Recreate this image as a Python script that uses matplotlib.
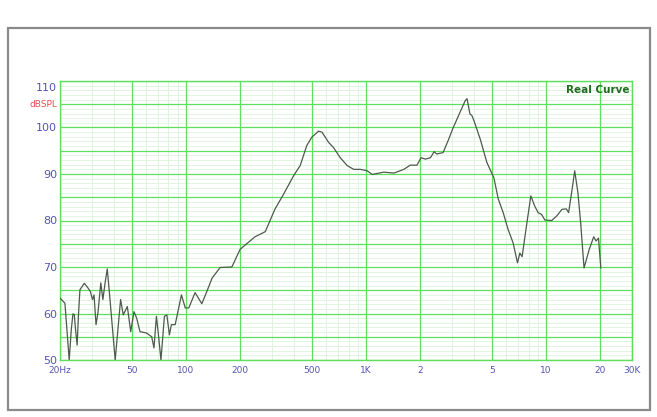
import matplotlib
matplotlib.use("Agg")
import matplotlib.pyplot as plt
from matplotlib.patches import Rectangle
from matplotlib.transforms import ScaledTranslation

freq = [20, 20.86, 21.3, 22.5, 23.1, 23.6, 24.0, 24.4, 24.9, 25.3, 25.8, 27.3, 28.6, 29.5, 30.3,
        30.9, 31.7, 32.5, 33.7, 34.6, 35.6, 36.6, 37.9, 40.5, 43.4, 44.9, 47.3, 49.4, 51.5, 53.3,
        55.6, 60.5, 64.6, 66.5, 68.6, 70.6, 72.7, 76.0, 78.4, 81.0, 83.1, 87.2, 94.5, 99.2, 103.8,
        112.5, 122.6, 130.6, 139.8, 155, 180, 200, 242, 276, 312, 348, 396, 431, 469, 500, 545,
        570, 620, 660, 720, 787, 855, 930, 1015, 1083, 1256, 1430, 1623, 1760, 1920, 2020, 2140,
        2280, 2390, 2470, 2680, 2860, 3030, 3330, 3560, 3640, 3780, 3870, 3975, 4310, 4690, 5130,
        5430, 5780, 6150, 6560, 6940, 7150, 7360, 7780, 8230, 8650, 9030, 9440, 9850, 10750,
        11480, 12250, 12950, 13340, 13950, 14420, 15020, 15560, 16250, 17370, 18390, 18950,
        19540, 20150]
spl = [63.3, 62.6, 62.2, 50, 56.5, 59.9, 59.8, 56.5, 53.2, 59.4, 65.1, 66.5, 65.5, 64.7, 63,
       64, 57.6, 60.2, 66.6, 63, 66.6, 69.6, 63, 50, 63, 59.7, 61.5, 56.1, 60.4, 59,
       56.1, 55.8, 55, 52.6, 59.4, 55, 50, 59.4, 59.7, 55.4, 57.6, 57.6, 64, 61.2, 61.2,
       64.5, 62.1, 64.7, 67.6, 69.9, 70, 73.8, 76.5, 77.6, 82.4, 85.6, 89.6, 91.8, 96.1, 97.9, 99.2,
       99, 96.8, 95.7, 93.5, 91.8, 91.0, 91.0, 90.7, 89.9, 90.4, 90.2, 91.0, 91.9, 91.9, 93.5, 93.2,
       93.5, 94.8, 94.3, 94.6, 97.2, 99.7, 103.3, 105.8, 106.2, 102.9, 102.6, 101.5, 97.5, 92.5, 89.2,
       84.6, 81.7, 78.1, 75.2, 70.9, 73.0, 72.2, 78.8, 85.3, 83.1, 81.7, 81.3, 80.1, 80,
       81, 82.4, 82.5, 81.7, 86.7, 90.7, 86, 79.5, 69.8, 73.8, 76.5, 75.6,
       76.2, 69.8]

xticks = [20, 50, 100, 200, 500, 1000, 2000, 5000, 10000, 20000, 30000]
xticklabels = ["20Hz", "50", "100", "200", "500", "1K", "2", "5", "10", "20", "30K"]
yticks = [50, 60, 70, 80, 90, 100, 110]
yticklabels = ["50", "60", "70", "80", "90", "100", "110"]
title = "Real Curve"
yunit = "dBSPL"

W, H = 657, 417
fig = plt.figure(figsize=(W / 100, H / 100), dpi=100)
fig.patch.set_facecolor("white")

# outer frame
fig.add_artist(Rectangle((8 / W, 1 - 410 / H), (650 - 8) / W, (410 - 28) / H,
                         transform=fig.transFigure, fill=False, edgecolor="#8a8a8a", lw=1.6))

ax = fig.add_axes([60 / W, 1 - 360 / H, (632 - 60) / W, (360 - 81) / H])
ax.set_xscale("log")
ax.set_xlim(20, 30000)
ax.set_ylim(50, 110)

major_g = "#5ee05e"
minor_g = "#dcf4dc"

# minor grid
minor_x = []
for dec in [10, 100, 1000, 10000]:
    for m in range(2, 10):
        f = m * dec
        if 20 < f < 30000 and f not in xticks:
            minor_x.append(f)
for f in minor_x:
    ax.axvline(f, color=minor_g, lw=0.6, zorder=0)
for v in range(51, 110):
    if v % 5 != 0:
        ax.axhline(v, color=minor_g, lw=0.6, zorder=0)
# major grid
for f in xticks:
    ax.axvline(f, color=major_g, lw=0.9, zorder=1)
for v in range(50, 111, 5):
    ax.axhline(v, color=major_g, lw=0.9, zorder=1)

for s in ax.spines.values():
    s.set_color(major_g)
    s.set_linewidth(1.0)

ax.plot(freq, spl, color="#4d5a4d", lw=0.9, zorder=3)

ax.set_xticks(xticks)
ax.set_xticklabels(xticklabels)
ax.xaxis.set_minor_locator(matplotlib.ticker.NullLocator())
ax.set_yticks(yticks)
ax.set_yticklabels(yticklabels)
ax.tick_params(axis="both", length=0, colors="#5555b5")
ax.tick_params(axis="x", pad=4, labelsize=6.5)
ax.tick_params(axis="y", pad=2, labelsize=8)

# shift "110" label downwards
lbl = ax.get_yticklabels()[-1]
lbl.set_transform(lbl.get_transform() + ScaledTranslation(0, -6 / 100, fig.dpi_scale_trans))

ax.text(-0.005, 105, yunit, transform=ax.get_yaxis_transform(), ha="right", va="center",
        fontsize=6.5, color="#e05050")
ax.text(0.995, 0.967, title, transform=ax.transAxes, ha="right", va="center",
        fontsize=7.5, fontweight="bold", color="#1f6e1f")

fig.savefig("out.png", dpi=100)
